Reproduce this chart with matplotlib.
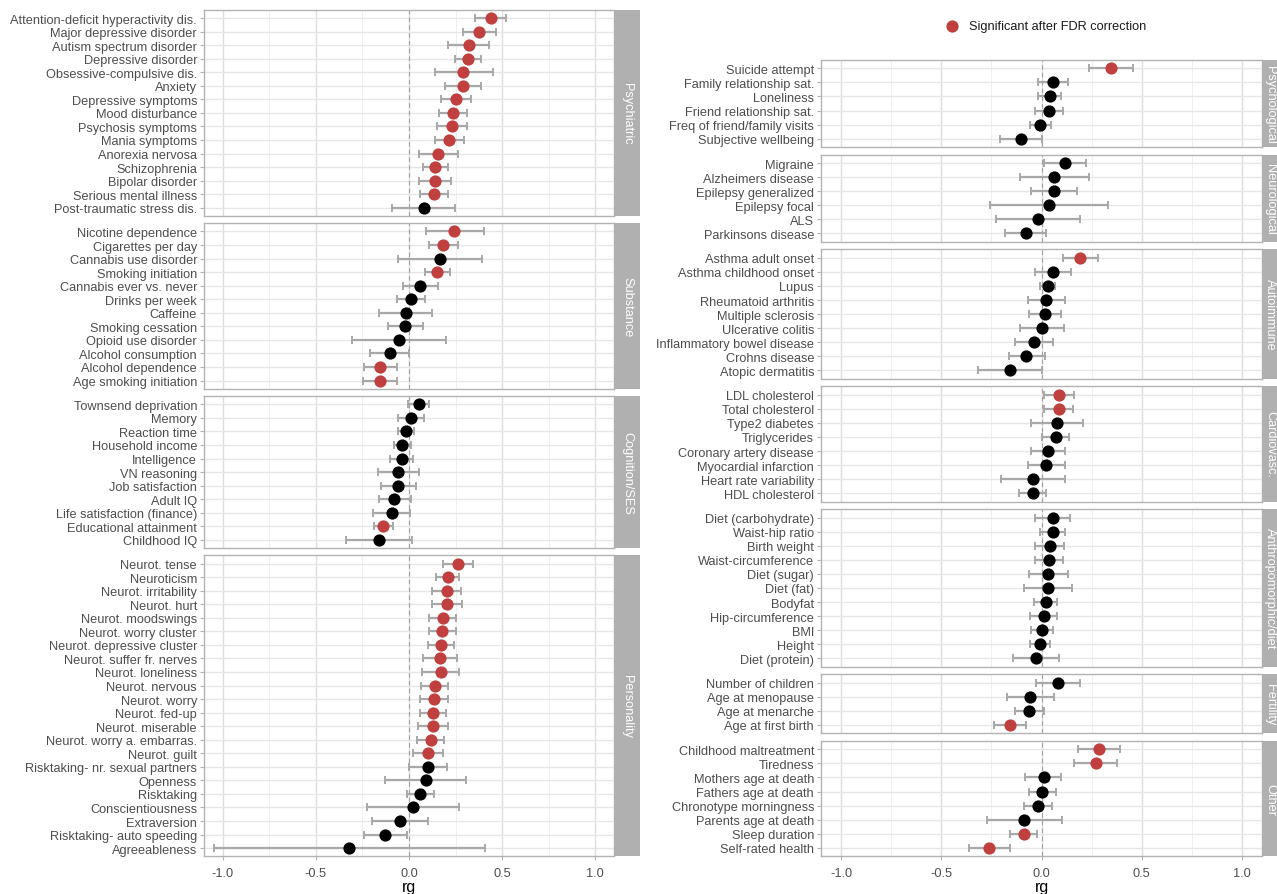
import matplotlib
matplotlib.use("Agg")
import matplotlib.pyplot as plt
from matplotlib.lines import Line2D

plt.rcParams['font.family'] = ['Liberation Sans', 'DejaVu Sans']

# ---------------- data (rg, 95% CI low, 95% CI high, significant after FDR) ----------------
psychiatric_labels = ["Attention-deficit hyperactivity dis.", "Major depressive disorder", "Autism spectrum disorder",
                      "Depressive disorder", "Obsessive-compulsive dis.", "Anxiety", "Depressive symptoms",
                      "Mood disturbance", "Psychosis symptoms", "Mania symptoms", "Anorexia nervosa",
                      "Schizophrenia", "Bipolar disorder", "Serious mental illness", "Post-traumatic stress dis."]
psychiatric_rg = [0.439, 0.378, 0.320, 0.315, 0.291, 0.291, 0.254, 0.237, 0.230, 0.213, 0.157, 0.141, 0.139, 0.133, 0.080]
psychiatric_lo = [0.352, 0.289, 0.207, 0.246, 0.137, 0.191, 0.172, 0.163, 0.150, 0.137, 0.052, 0.074, 0.052, 0.057, -0.089]
psychiatric_hi = [0.522, 0.465, 0.430, 0.385, 0.450, 0.387, 0.335, 0.311, 0.311, 0.293, 0.263, 0.211, 0.228, 0.209, 0.248]
psychiatric_sig = [1, 1, 1, 1, 1, 1, 1, 1, 1, 1, 1, 1, 1, 1, 0]

substance_labels = ["Nicotine dependence", "Cigarettes per day", "Cannabis use disorder", "Smoking initiation",
                    "Cannabis ever vs. never", "Drinks per week", "Caffeine", "Smoking cessation",
                    "Opioid use disorder", "Alcohol consumption", "Alcohol dependence", "Age smoking initiation"]
substance_rg = [0.243, 0.185, 0.165, 0.152, 0.061, 0.011, -0.017, -0.020, -0.054, -0.102, -0.154, -0.154]
substance_lo = [0.089, 0.109, -0.057, 0.087, -0.033, -0.065, -0.159, -0.111, -0.307, -0.207, -0.243, -0.248]
substance_hi = [0.400, 0.261, 0.393, 0.220, 0.157, 0.087, 0.126, 0.074, 0.196, 0.000, -0.067, -0.063]
substance_sig = [1, 1, 0, 1, 0, 0, 0, 0, 0, 0, 1, 1]

cognition_labels = ["Townsend deprivation", "Memory", "Reaction time", "Household income", "Intelligence",
                    "VN reasoning", "Job satisfaction", "Adult IQ", "Life satisfaction (finance)",
                    "Educational attainment", "Childhood IQ"]
cognition_rg = [0.052, 0.009, -0.017, -0.035, -0.039, -0.057, -0.059, -0.078, -0.091, -0.137, -0.161]
cognition_lo = [-0.004, -0.061, -0.059, -0.080, -0.104, -0.165, -0.150, -0.163, -0.193, -0.189, -0.337]
cognition_hi = [0.109, 0.078, 0.028, 0.013, 0.022, 0.054, 0.035, 0.013, 0.007, -0.085, 0.015]
cognition_sig = [0, 0, 0, 0, 0, 0, 0, 0, 0, 1, 0]

personality_labels = ["Neurot. tense", "Neuroticism", "Neurot. irritability", "Neurot. hurt", "Neurot. moodswings",
                      "Neurot. worry cluster", "Neurot. depressive cluster", "Neurot. suffer fr. nerves",
                      "Neurot. loneliness", "Neurot. nervous", "Neurot. worry", "Neurot. fed-up",
                      "Neurot. miserable", "Neurot. worry a. embarras.", "Neurot. guilt",
                      "Risktaking- nr. sexual partners", "Openness", "Risktaking", "Conscientiousness",
                      "Extraversion", "Risktaking- auto speeding", "Agreeableness"]
personality_rg = [0.265, 0.207, 0.202, 0.204, 0.180, 0.178, 0.170, 0.167, 0.170, 0.139, 0.133, 0.128, 0.130,
                  0.117, 0.102, 0.100, 0.089, 0.061, 0.020, -0.046, -0.128, -0.320]
personality_lo = [0.185, 0.143, 0.124, 0.124, 0.109, 0.107, 0.100, 0.076, 0.072, 0.063, 0.057, 0.057, 0.050,
                  0.043, 0.020, 0.000, -0.128, -0.013, -0.228, -0.198, -0.243, -1.048]
personality_hi = [0.343, 0.270, 0.280, 0.283, 0.252, 0.250, 0.239, 0.257, 0.267, 0.211, 0.207, 0.200, 0.209,
                  0.189, 0.185, 0.202, 0.307, 0.135, 0.267, 0.100, -0.009, 0.409]
personality_sig = [1, 1, 1, 1, 1, 1, 1, 1, 1, 1, 1, 1, 1, 1, 1, 0, 0, 0, 0, 0, 0, 0]

psychological_labels = ["Suicide attempt", "Family relationship sat.", "Loneliness", "Friend relationship sat.",
                        "Freq of friend/family visits", "Subjective wellbeing"]
psychological_rg = [0.345, 0.059, 0.043, 0.037, -0.006, -0.103]
psychological_lo = [0.237, -0.016, -0.018, -0.034, -0.057, -0.209]
psychological_hi = [0.454, 0.132, 0.099, 0.108, 0.047, 0.002]
psychological_sig = [1, 0, 0, 0, 0, 0]

neurological_labels = ["Migraine", "Alzheimers disease", "Epilepsy generalized", "Epilepsy focal", "ALS",
                       "Parkinsons disease"]
neurological_rg = [0.116, 0.063, 0.061, 0.037, -0.018, -0.077]
neurological_lo = [0.010, -0.108, -0.053, -0.258, -0.227, -0.181]
neurological_hi = [0.223, 0.235, 0.176, 0.333, 0.191, 0.024]
neurological_sig = [0, 0, 0, 0, 0, 0]

autoimmune_labels = ["Asthma adult onset", "Asthma childhood onset", "Lupus", "Rheumatoid arthritis",
                     "Multiple sclerosis", "Ulcerative colitis", "Inflammatory bowel disease", "Crohns disease",
                     "Atopic dermatitis"]
autoimmune_rg = [0.193, 0.059, 0.030, 0.024, 0.018, 0.002, -0.037, -0.075, -0.156]
autoimmune_lo = [0.105, -0.030, -0.008, -0.065, -0.063, -0.108, -0.130, -0.164, -0.316]
autoimmune_hi = [0.282, 0.146, 0.067, 0.118, 0.099, 0.114, 0.059, 0.016, 0.004]
autoimmune_sig = [1, 0, 0, 0, 0, 0, 0, 0, 0]

cardiovasc_labels = ["LDL cholesterol", "Total cholesterol", "Type2 diabetes", "Triglycerides",
                     "Coronary artery disease", "Myocardial infarction", "Heart rate variability", "HDL cholesterol"]
cardiovasc_rg = [0.087, 0.085, 0.079, 0.071, 0.032, 0.020, -0.043, -0.043]
cardiovasc_lo = [0.014, 0.014, -0.051, 0.004, -0.051, -0.069, -0.201, -0.110]
cardiovasc_hi = [0.162, 0.156, 0.207, 0.136, 0.118, 0.116, 0.118, 0.022]
cardiovasc_sig = [1, 1, 0, 0, 0, 0, 0, 0]

anthro_labels = ["Diet (carbohydrate)", "Waist-hip ratio", "Birth weight", "Waist-circumference", "Diet (sugar)",
                 "Diet (fat)", "Bodyfat", "Hip-circumference", "BMI", "Height", "Diet (protein)"]
anthro_rg = [0.057, 0.055, 0.041, 0.037, 0.034, 0.030, 0.020, 0.010, 0.002, -0.006, -0.026]
anthro_lo = [-0.030, -0.006, -0.030, -0.030, -0.063, -0.085, -0.039, -0.059, -0.053, -0.057, -0.142]
anthro_hi = [0.142, 0.118, 0.110, 0.105, 0.132, 0.150, 0.077, 0.077, 0.057, 0.043, 0.087]
anthro_sig = [0, 0, 0, 0, 0, 0, 0, 0, 0, 0, 0]

fertility_labels = ["Number of children", "Age at menopause", "Age at menarche", "Age at first birth"]
fertility_rg = [0.083, -0.055, -0.061, -0.156]
fertility_lo = [-0.026, -0.170, -0.134, -0.237]
fertility_hi = [0.193, 0.063, 0.010, -0.077]
fertility_sig = [0, 0, 0, 1]

other_labels = ["Childhood maltreatment", "Tiredness", "Mothers age at death", "Fathers age at death",
                "Chronotype morningness", "Parents age at death", "Sleep duration", "Self-rated health"]
other_rg = [0.288, 0.270, 0.010, 0.004, -0.018, -0.085, -0.089, -0.260]
other_lo = [0.183, 0.162, -0.083, -0.063, -0.087, -0.274, -0.158, -0.363]
other_hi = [0.394, 0.379, 0.097, 0.071, 0.051, 0.101, -0.022, -0.156]
other_sig = [1, 1, 0, 0, 0, 0, 1, 1]

x_ticks = [-1.0, -0.5, 0.0, 0.5, 1.0]
x_tick_labels = ["-1.0", "-0.5", "0.0", "0.5", "1.0"]
x_minor = [-0.75, -0.25, 0.25, 0.75]
legend_label = "Significant after FDR correction"
x_title = "rg"

left_panels = [
    ("Psychiatric", psychiatric_labels, psychiatric_rg, psychiatric_lo, psychiatric_hi, psychiatric_sig),
    ("Substance", substance_labels, substance_rg, substance_lo, substance_hi, substance_sig),
    ("Cognition/SES", cognition_labels, cognition_rg, cognition_lo, cognition_hi, cognition_sig),
    ("Personality", personality_labels, personality_rg, personality_lo, personality_hi, personality_sig),
]
right_panels = [
    ("Psychological", psychological_labels, psychological_rg, psychological_lo, psychological_hi, psychological_sig),
    ("Neurological", neurological_labels, neurological_rg, neurological_lo, neurological_hi, neurological_sig),
    ("Autoimmune", autoimmune_labels, autoimmune_rg, autoimmune_lo, autoimmune_hi, autoimmune_sig),
    ("Cardiovasc.", cardiovasc_labels, cardiovasc_rg, cardiovasc_lo, cardiovasc_hi, cardiovasc_sig),
    ("Anthropomorphic/diet", anthro_labels, anthro_rg, anthro_lo, anthro_hi, anthro_sig),
    ("Fertility", fertility_labels, fertility_rg, fertility_lo, fertility_hi, fertility_sig),
    ("Other", other_labels, other_rg, other_lo, other_hi, other_sig),
]

# ---------------- style ----------------
W, H = 1277, 895
RED = "#C0403F"
BLACK = "#000000"
GREY_BORDER = "#B3B3B3"
STRIP = "#B0B0B0"
ERR = "#A8A8A8"
TICK_TXT = "#4D4D4D"

fig = plt.figure(figsize=(W / 100, H / 100), dpi=100)
fig.patch.set_facecolor("white")


def ax_at(x0, y0, x1, y1):
    return fig.add_axes([x0 / W, 1 - y1 / H, (x1 - x0) / W, (y1 - y0) / H])


def draw_column(panels, x0, x1, strip_w, strip_text_x, top, s, gap):
    y = top
    for k, (title, labels, rg, lo, hi, sig) in enumerate(panels):
        n = len(labels)
        h = (n + 0.2) * s
        last = (k == len(panels) - 1)
        ax = ax_at(x0, y, x1, y + h)
        ys = [n - 1 - i for i in range(n)]
        ax.set_xlim(-1.1, 1.1)
        ax.set_ylim(-0.6, n - 0.4)
        ax.set_xticks(x_ticks)
        ax.set_xticks(x_minor, minor=True)
        ax.set_axisbelow(True)
        ax.grid(which="major", axis="x", color="#DEDEDE", lw=1.0)
        ax.grid(which="minor", axis="x", color="#EDEDED", lw=0.6)
        ax.grid(which="major", axis="y", color="#E6E6E6", lw=1.0)
        ax.axvline(0, color="#A0A0A0", lw=0.8, ls=(0, (4, 3)), zorder=1.5)
        for yi, r, l, hgh, sg in zip(ys, rg, lo, hi, sig):
            ax.errorbar([r], [yi], xerr=[[r - l], [hgh - r]], fmt="none", ecolor=ERR,
                        elinewidth=1.6, capsize=3.2, capthick=1.4, zorder=2)
            ax.plot([r], [yi], "o", ms=8.8, color=RED if sg else BLACK, mec="none", zorder=3)
        ax.set_yticks(ys)
        ax.set_yticklabels(labels, color=TICK_TXT, fontsize=9.2)
        ax.tick_params(axis="y", length=3, color=GREY_BORDER, width=0.8, pad=2)
        ax.tick_params(axis="x", which="minor", length=0)
        if last:
            ax.set_xticklabels(x_tick_labels, color=TICK_TXT, fontsize=9.2)
            ax.tick_params(axis="x", which="major", length=3, color=GREY_BORDER, width=0.8, pad=5)
            ax.set_xlabel(x_title, fontsize=11.5, color="black", labelpad=0)
        else:
            ax.tick_params(axis="x", which="major", length=0, labelbottom=False)
        for sp in ax.spines.values():
            sp.set_color(GREY_BORDER)
            sp.set_linewidth(1.0)
        sax = ax_at(x1, y, x1 + strip_w, y + h)
        sax.set_facecolor(STRIP)
        sax.set_xticks([])
        sax.set_yticks([])
        for sp in sax.spines.values():
            sp.set_visible(False)
        fig.text(strip_text_x / W, 1 - (y + h / 2) / H, title, rotation=270, color="white",
                 fontsize=9.2, ha="center", va="center")
        y += h + gap


draw_column(left_panels, 204, 614, 26, 627, 10.9, 13.55, 7.5)
draw_column(right_panels, 821, 1262, 26, 1270, 60.9, 14.07, 7.5)

# legend
fig.add_artist(Line2D([952 / W], [1 - 27 / H], marker="o", ms=8.8, color=RED, mec="none",
                      transform=fig.transFigure))
fig.text(969 / W, 1 - 27 / H, legend_label, fontsize=9.2, color="#1A1A1A", ha="left", va="center")

fig.savefig("out.png", dpi=100)
